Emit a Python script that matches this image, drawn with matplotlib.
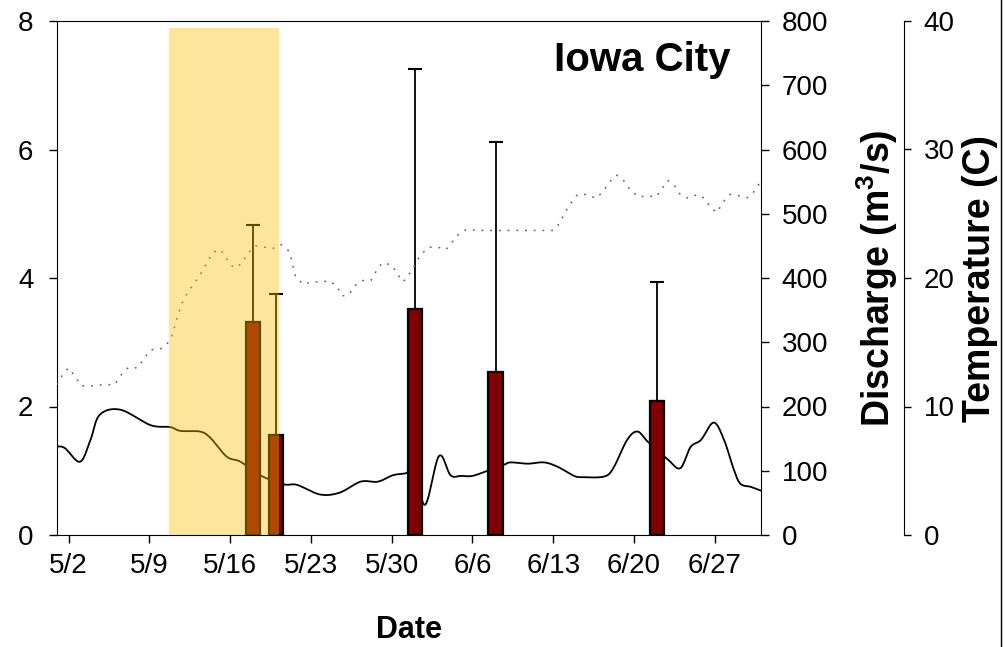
import numpy as np
import matplotlib
matplotlib.use("Agg")
from matplotlib import pyplot as plt
from matplotlib.patches import Rectangle
from matplotlib.lines import Line2D

plt.rcParams['font.family'] = ['Liberation Sans', 'DejaVu Sans']
plt.rcParams['mathtext.fontset'] = 'custom'
plt.rcParams['mathtext.rm'] = 'Liberation Sans'
plt.rcParams['mathtext.bf'] = 'Liberation Sans:bold'

# days counted from May 1
tick_days = [1, 8, 15, 22, 29, 36, 43, 50, 57]
tick_labels = ['5/2', '5/9', '5/16', '5/23', '5/30', '6/6', '6/13', '6/20', '6/27']

# sampling events (bars, left axis) and upper error
bar_days = [17, 19, 31, 38, 52]
bar_vals = [3.32, 1.55, 3.52, 2.53, 2.08]
bar_err_top = [4.82, 3.75, 7.25, 6.12, 3.94]

# highlighted period
span_start = 9.74
span_end = 19.23
span_top = 7.89

# discharge (m3/s)
q_days = [0, 0.7, 2.0, 2.9, 3.7, 5.5, 8.1, 9.8, 10.7, 12.4, 13.3, 14.7, 15.9,
          17.6, 19.6, 20.8, 22.8, 24.5, 26.3, 27.8, 29.1, 30.2, 31.0, 31.9,
          33.1, 34.1, 35.0, 36.0, 37.3, 38.7, 39.3, 40.8, 42.2, 43.4, 44.8,
          45.6, 47.4, 48.2, 49.4, 50.3, 51.2, 52.9, 54.0, 54.9, 55.8, 56.9,
          57.8, 58.6, 59.2, 60.1, 61.0]
q_vals = [138, 135, 114, 148, 187, 195, 171, 168, 162, 161, 151, 122, 114,
          93, 79, 78, 63, 66, 83, 83, 93, 96, 101, 47,
          123, 93, 92, 92, 100, 109, 113, 111, 113, 106, 92,
          90, 91, 104, 148, 161, 145, 118, 104, 137, 148, 175,
          148, 104, 80, 75, 69]

# water temperature (C)
t_days = [0, 0.5, 1, 1.6, 2.1, 3, 4, 5, 5.5, 6.2, 7, 7.5, 8.1, 9, 9.5, 10,
          10.5, 11, 11.5, 12, 12.5, 13, 13.5, 14.2, 14.7, 15.3, 16, 16.5,
          17.2, 18, 18.7, 19.4, 20, 20.3, 20.7, 21.4, 22, 23, 23.6, 24.3,
          24.7, 25.3, 25.8, 26.5, 27.2, 27.7, 28.2, 29, 29.5, 30, 30.6, 31,
          31.5, 32.2, 33, 33.7, 34.2, 34.8, 35.5, 36.5, 43, 43.6, 44, 44.5,
          45.1, 45.9, 46.7, 47.3, 47.8, 48.5, 49.2, 49.7, 50.4, 51.1, 51.9,
          52.4, 52.9, 53.5, 54, 54.7, 55.5, 56.1, 56.6, 57.2, 57.7, 58.3,
          59.1, 59.8, 60.5, 61]
t_vals = [11.7, 12.5, 13.0, 12.3, 11.6, 11.6, 11.7, 11.7, 12.4, 13.05, 13.0,
          13.7, 14.4, 14.5, 14.8, 15.6, 17.2, 18.4, 19.1, 19.7, 20.4, 21.2,
          22.0, 22.2, 21.5, 20.8, 21.1, 21.9, 22.5, 22.4, 22.3, 22.6, 22.2,
          21.5, 20.0, 19.5, 19.7, 19.7, 19.8, 19.3, 18.6, 18.7, 19.4, 19.8,
          19.8, 20.6, 21.2, 21.0, 20.3, 19.7, 20.4, 21.0, 21.8, 22.4, 22.4,
          22.2, 22.75, 23.4, 23.8, 23.7, 23.7, 24.3, 25.1, 25.8, 26.5, 26.5,
          26.2, 26.7, 27.4, 28.0, 27.5, 26.8, 26.3, 26.4, 26.3, 26.9, 27.6,
          27.2, 26.5, 26.2, 26.5, 26.2, 25.5, 25.1, 25.9, 26.5, 26.4, 26.25,
          26.8, 27.6]


def smooth(x, y, n=12):
    # Catmull-Rom curve through the points, like a smoothed spreadsheet line
    p = np.column_stack([x, y]).astype(float)
    p = np.vstack([p[0], p, p[-1]])
    t = np.linspace(0, 1, n, endpoint=False)[:, None]
    out = []
    for i in range(1, len(p) - 2):
        p0, p1, p2, p3 = p[i - 1], p[i], p[i + 1], p[i + 2]
        seg = 0.5 * ((2 * p1) + (-p0 + p2) * t
                     + (2 * p0 - 5 * p1 + 4 * p2 - p3) * t ** 2
                     + (-p0 + 3 * p1 - 3 * p2 + p3) * t ** 3)
        out.append(seg)
    out.append(p[-2][None, :])
    out = np.vstack(out)
    return out[:, 0], out[:, 1]


fig = plt.figure(figsize=(10.05, 6.47), dpi=100)
ax = fig.add_axes([57 / 1005, 112 / 647, 704 / 1005, 514 / 647])
ax_q = ax.twinx()
ax_t = ax.twinx()

# discharge under the bars, temperature and shading on top
ax_q.set_zorder(1)
ax.set_zorder(2)
ax_t.set_zorder(3)
for a in (ax, ax_t):
    a.patch.set_visible(False)

qx, qy = smooth(q_days, q_vals)
ax_q.plot(qx, qy, color='black', lw=1.3)

ax.bar(bar_days, bar_vals, width=1.25, color='#800000', edgecolor='black',
       linewidth=1.6, zorder=2)
err_up = np.array(bar_err_top) - np.array(bar_vals)
ax.errorbar(bar_days, bar_vals, yerr=[np.zeros(len(bar_vals)), err_up],
            fmt='none', ecolor='black', elinewidth=1.3, capsize=5,
            capthick=1.5, zorder=3)

ax_t.plot(t_days, t_vals, color='#7A4E9A', lw=1.1, linestyle=(0, (1.2, 4.5)),
          zorder=2)
ax_t.add_patch(Rectangle((span_start, 0), span_end - span_start, span_top,
                         transform=ax.transData, facecolor=(251 / 255, 190 / 255, 0),
                         alpha=0.39, lw=0, zorder=5))

ax.set_xlim(0, 61)
ax.set_ylim(0, 8)
ax.set_yticks([0, 2, 4, 6, 8])
ax.set_xticks(tick_days)
ax.set_xticklabels(tick_labels)
ax_q.set_ylim(0, 800)
ax_q.set_yticks(range(0, 801, 100))
ax_t.set_ylim(0, 40)
ax_t.set_yticks([0, 10, 20, 30, 40])

ax.tick_params(axis='x', direction='out', length=6, width=1, labelsize=20, pad=7)
ax.tick_params(axis='y', direction='out', length=6, width=1, labelsize=20, pad=11)
ax_q.tick_params(direction='out', length=6, width=1, labelsize=20, pad=9)
ax_t.tick_params(direction='out', length=5, width=1, labelsize=20, pad=9)

ax_t.spines['right'].set_position(('axes', (904 - 57) / 704))
for s in ('top', 'left', 'bottom'):
    ax_t.spines[s].set_visible(False)
    ax_q.spines[s].set_visible(False)
ax.spines['right'].set_visible(False)

ax.set_xlabel('Date', fontsize=22, fontweight='bold', va='center')
ax.xaxis.set_label_coords(0.5, -0.185)
ax_q.set_ylabel(r'Discharge (m$^{\mathbf{3}}$/s)', fontsize=27,
                fontweight='bold', va='center')
ax_q.yaxis.set_label_coords((877 - 57) / 704, 0.5)
ax_t.set_ylabel('Temperature (C)', fontsize=27, fontweight='bold', va='center')
ax_t.yaxis.set_label_coords((980 - 57) / 704, 0.5)

ax.text(0.956, 0.924, 'Iowa City', transform=ax.transAxes, ha='right',
        va='center', fontsize=29, fontweight='bold')

fig.add_artist(Line2D([1000.5 / 1005] * 2, [0, 1], color='black', lw=1))

fig.savefig('out.png', dpi=100)
